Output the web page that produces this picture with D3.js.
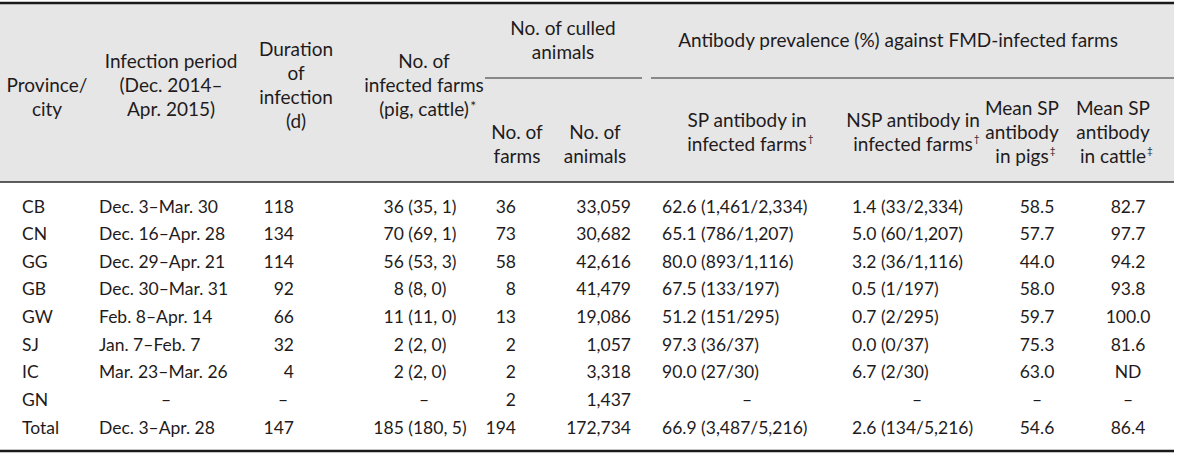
<!DOCTYPE html>
<html><head><meta charset="utf-8">
<script src="https://cdn.jsdelivr.net/npm/d3@7"></script>
<style>
html,body{margin:0;padding:0;background:#fff;}
svg text{font-family:Lato, "Noto Sans", sans-serif;fill:#1f1b1c;}
</style></head>
<body>
<svg id="chart" width="1200" height="457"></svg>
<script>
// ---- data ----
const provinces = ["CB","CN","GG","GB","GW","SJ","IC","GN","Total"];
const periods = ["Dec. 3–Mar. 30","Dec. 16–Apr. 28","Dec. 29–Apr. 21","Dec. 30–Mar. 31","Feb. 8–Apr. 14","Jan. 7–Feb. 7","Mar. 23–Mar. 26","–","Dec. 3–Apr. 28"];
const durations = ["118","134","114","92","66","32","4","–","147"];
const infectedFarms = ["36 (35, 1)","70 (69, 1)","56 (53, 3)","8 (8, 0)","11 (11, 0)","2 (2, 0)","2 (2, 0)","–","185 (180, 5)"];
const culledFarms = ["36","73","58","8","13","2","2","2","194"];
const culledAnimals = ["33,059","30,682","42,616","41,479","19,086","1,057","3,318","1,437","172,734"];
const spAntibody = ["62.6 (1,461/2,334)","65.1 (786/1,207)","80.0 (893/1,116)","67.5 (133/197)","51.2 (151/295)","97.3 (36/37)","90.0 (27/30)","–","66.9 (3,487/5,216)"];
const nspAntibody = ["1.4 (33/2,334)","5.0 (60/1,207)","3.2 (36/1,116)","0.5 (1/197)","0.7 (2/295)","0.0 (0/37)","6.7 (2/30)","–","2.6 (134/5,216)"];
const meanSpPigs = ["58.5","57.7","44.0","58.0","59.7","75.3","63.0","–","54.6"];
const meanSpCattle = ["82.7","97.7","94.2","93.8","100.0","81.6","ND","–","86.4"];

// header texts (lines; [text, superscript])
const headerFull = [
  {lines:[["Province/"],["city"]], x:47, center:96},
  {lines:[["Infection period"],["(Dec. 2014–"],["Apr. 2015)"]], x:171, center:84},
  {lines:[["Duration"],["of"],["infection"],["(d)"]], x:296, center:84},
  {lines:[["No. of"],["infected farms"],["(pig, cattle)","*"]], x:424, center:84}
];
const headerSpan = [
  {lines:[["No. of culled"],["animals"]], x:563, x0:485, x1:642},
  {lines:[["Antibody prevalence (%) against FMD-infected farms"]], x:898, x0:651, x1:1174}
];
const headerSub = [
  {lines:[["No. of"],["farms"]], x:517, align:"bottom"},
  {lines:[["No. of"],["animals"]], x:595, align:"bottom"},
  {lines:[["SP antibody in"],["infected farms","†"]], x:747, align:"middle"},
  {lines:[["NSP antibody in"],["infected farms","†"]], x:913, align:"middle"},
  {lines:[["Mean SP"],["antibody"],["in pigs","‡"]], x:1022, align:"bottom"},
  {lines:[["Mean SP"],["antibody"],["in cattle","‡"]], x:1113, align:"bottom"}
];

// column definitions for body
const columns = [
  {values:provinces, x:22, anchor:"start", dashX:47},
  {values:periods, x:99, anchor:"start", dashX:166},
  {values:durations, x:294, anchor:"end", dashX:283},
  {values:infectedFarms, x:420, anchor:"middle", dashX:424},
  {values:culledFarms, x:516, anchor:"end", dashX:505},
  {values:culledAnimals, x:631, anchor:"end", dashX:600},
  {values:spAntibody, x:662, anchor:"start", dashX:747},
  {values:nspAntibody, x:852, anchor:"start", dashX:917},
  {values:meanSpPigs, x:1037, anchor:"middle", dashX:1037},
  {values:meanSpCattle, x:1128, anchor:"middle", dashX:1128}
];

const svg = d3.select("#chart");
const tableX0 = 0, tableX1 = 1174;
const topY = 3, spanLineY = 78, headBottom = 182, bottomY = 451;
const lineH = 24;
const headFont = 19;

// header background
svg.append("rect").attr("x",tableX0).attr("y",topY).attr("width",tableX1-tableX0).attr("height",headBottom-topY).attr("fill","#e6e6e6");

// rules
svg.append("line").attr("x1",tableX0).attr("x2",tableX1).attr("y1",topY).attr("y2",topY).attr("stroke","#1a1a1a").attr("stroke-width",2.5);
svg.append("line").attr("x1",tableX0).attr("x2",tableX1).attr("y1",headBottom).attr("y2",headBottom).attr("stroke","#2a2a2a").attr("stroke-width",1.6);
svg.append("line").attr("x1",tableX0).attr("x2",tableX1).attr("y1",bottomY).attr("y2",bottomY).attr("stroke","#1a1a1a").attr("stroke-width",2.5);
headerSpan.forEach(h=>{
  svg.append("line").attr("x1",h.x0).attr("x2",h.x1).attr("y1",spanLineY).attr("y2",spanLineY).attr("stroke","#6a6a6a").attr("stroke-width",1.5);
});

function drawBlock(h, lastY){
  const n = h.lines.length;
  h.lines.forEach((ln,i)=>{
    const ly = lastY-(n-1-i)*lineH;
    const t = svg.append("text").attr("x",h.x).attr("y",ly)
      .attr("text-anchor","middle").attr("dominant-baseline","central").style("font-size",headFont+"px")
      .text(ln[0]);
    if(ln[1]){
      const star = ln[1]==="*";
      const w = t.node().getComputedTextLength();
      svg.append("text").attr("x",h.x + w/2 + (star?1.5:1)).attr("y",ly-(star?3:5))
        .attr("text-anchor","start").attr("dominant-baseline","central")
        .style("font-size",star?"14px":"10px").text(ln[1]);
    }
  });
}
function drawCentered(h, cy){
  const n = h.lines.length;
  drawBlock(h, cy + (n-1)*lineH/2);
}
headerFull.forEach(h=>drawCentered(h, h.center));
headerSpan.forEach(h=>drawCentered(h, 39));
const subCenter = 131, subBottom = 155;
headerSub.forEach(h=>{
  if(h.align==="bottom") drawBlock(h, subBottom);
  else drawCentered(h, subCenter);
});

// body rows
const y = d3.scalePoint().domain(d3.range(provinces.length)).range([206,427]);
columns.forEach(c=>{
  svg.append("g").selectAll("text").data(c.values).join("text")
    .attr("x",d=>d==="–"?c.dashX:c.x)
    .attr("y",(d,i)=>y(i))
    .attr("text-anchor",d=>d==="–"?"middle":c.anchor)
    .attr("dominant-baseline","central")
    .style("font-size","17.5px")
    .text(d=>d);
});
</script>
</body></html>
